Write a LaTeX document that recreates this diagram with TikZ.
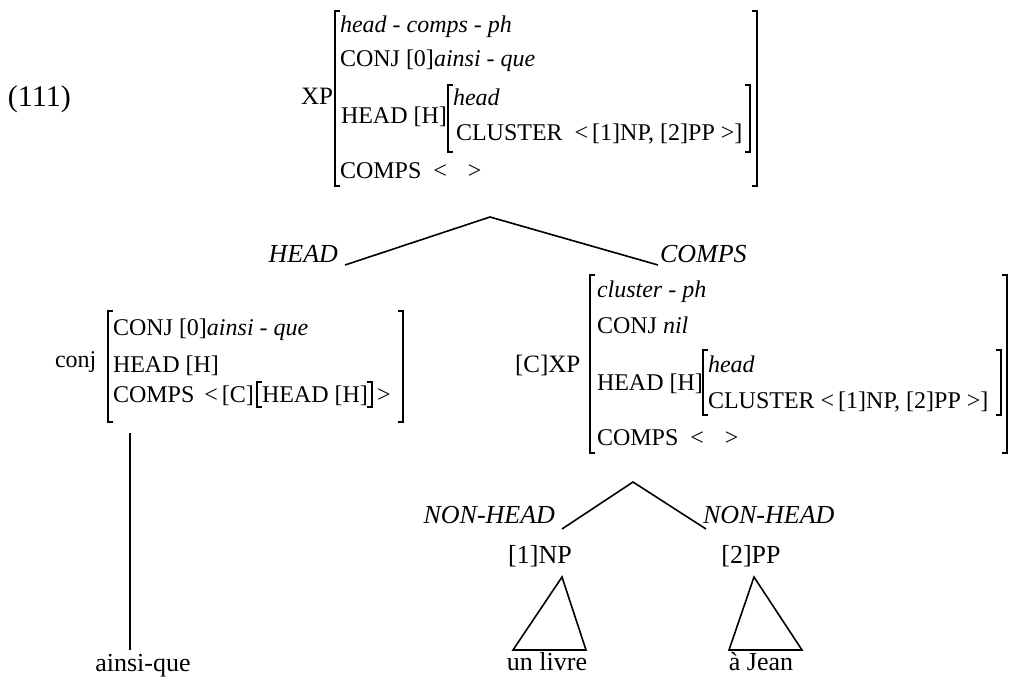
\documentclass[tikz,border=0pt]{standalone}
\usepackage{fontspec}
\setmainfont{Liberation Serif}
\newcommand\avmlb[3]{\draw[brk] (#1+5,#2) -- (#1,#2) -- (#1,#3) -- (#1+5,#3);}
\newcommand\avmrb[3]{\draw[brk] (#1-5,#2) -- (#1,#2) -- (#1,#3) -- (#1-5,#3);}
\begin{document}
\begin{tikzpicture}[x=1pt,y=-1pt,
  every node/.style={inner sep=0pt, outer sep=0pt, font=\fontsize{24}{28}\selectfont},
  txt/.style={anchor=base west},
  ctr/.style={anchor=base},
  rtx/.style={anchor=base east},
  big/.style={font=\fontsize{26}{30}\selectfont},
  brk/.style={line width=1.2pt},
  edge/.style={line width=1.6pt}]
\useasboundingbox (0,0) rectangle (1012,680);

% label
\node[txt, font=\fontsize{30}{34}\selectfont] (ex) at (8,106) {(111)};

% top AVM
\node[txt, font=\fontsize{25}{30}\selectfont] (xp) at (301,104) {XP};
\node[txt] (t1) at (340,32) {\textit{head - comps - ph}};
\node[txt] (t2) at (340,66) {CONJ [0]\textit{ainsi - que}};
\node[txt] (t3) at (341,123) {HEAD [H]};
\node[txt] (t4) at (453,105) {\textit{head}};
\node[txt] (t5) at (456,140) {CLUSTER \ <\,[1]NP, [2]PP >]};
\node[txt] (t6) at (340,178) {COMPS\hspace{12pt}<\hspace{21pt}>};
\avmlb{335}{11}{186}
\avmrb{757}{11}{186}
\avmlb{448}{85}{152}
\avmrb{750}{85}{152}

% top branching
\coordinate (a1) at (490,217);
\node[rtx, big] (hd) at (338,262) {\textit{HEAD}};
\node[txt, big] (cp) at (660,262) {\textit{COMPS}};
\coordinate (a1l) at (345,265);
\coordinate (a1r) at (658,265);
\draw[edge] (a1l) -- (a1) -- (a1r);

% conj AVM
\node[txt] (cj) at (55,367) {conj};
\node[txt] (c1) at (113,335) {CONJ [0]\textit{ainsi - que}};
\node[txt] (c2) at (113,372) {HEAD [H]};
\node[txt] (c3) at (113,402) {COMPS\hspace{10pt}<\,[C]};
\node[txt] (c4) at (262,402) {HEAD [H]};
\node[txt] (c5) at (377,402) {>};
\avmlb{108}{311}{422}
\avmrb{403}{311}{422}
\avmlb{257}{382}{407}
\avmrb{372}{382}{407}

% conj leaf
\coordinate (v1) at (130,433);
\node[ctr, big] (aq) at (143,671) {ainsi-que};
\coordinate (v2) at (130,650);
\draw[edge] (v1) -- (v2);

% [C]XP AVM
\node[txt, font=\fontsize{25}{30}\selectfont] (cxp) at (515,372) {[C]XP};
\node[txt] (d1) at (597,297) {\textit{cluster - ph}};
\node[txt] (d2) at (597,333) {CONJ \textit{nil}};
\node[txt] (d3) at (597,390) {HEAD [H]};
\node[txt] (d4) at (708,372) {\textit{head}};
\node[txt] (d5) at (708,408) {CLUSTER <\,[1]NP, [2]PP >]};
\node[txt] (d6) at (597,445) {COMPS\hspace{12pt}<\hspace{21pt}>};
\avmlb{590}{275}{453}
\avmrb{1007}{275}{453}
\avmlb{703}{350}{415}
\avmrb{1001}{350}{415}

% lower branching
\coordinate (a2) at (633,482);
\coordinate (a2l) at (562,529);
\coordinate (a2r) at (706,529);
\draw[edge] (a2l) -- (a2) -- (a2r);
\node[rtx, big] (nh1) at (555,523) {\textit{NON-HEAD}};
\node[txt, big] (nh2) at (703,523) {\textit{NON-HEAD}};
\node[ctr, big] (np) at (540,563) {[1]NP};
\node[ctr, big] (pp) at (751,563) {[2]PP};

% triangles
\coordinate (tr1) at (562,577);
\coordinate (tr1l) at (513,650);
\coordinate (tr1r) at (586,650);
\draw[edge, line join=miter] (tr1) -- (tr1l) -- (tr1r) -- cycle;
\coordinate (tr2) at (754,577);
\coordinate (tr2l) at (729,650);
\coordinate (tr2r) at (802,650);
\draw[edge, line join=miter] (tr2) -- (tr2l) -- (tr2r) -- cycle;
\node[ctr, big] (ul) at (547,670) {un livre};
\node[ctr, big] (aj) at (761,670) {à Jean};
\end{tikzpicture}
\end{document}
